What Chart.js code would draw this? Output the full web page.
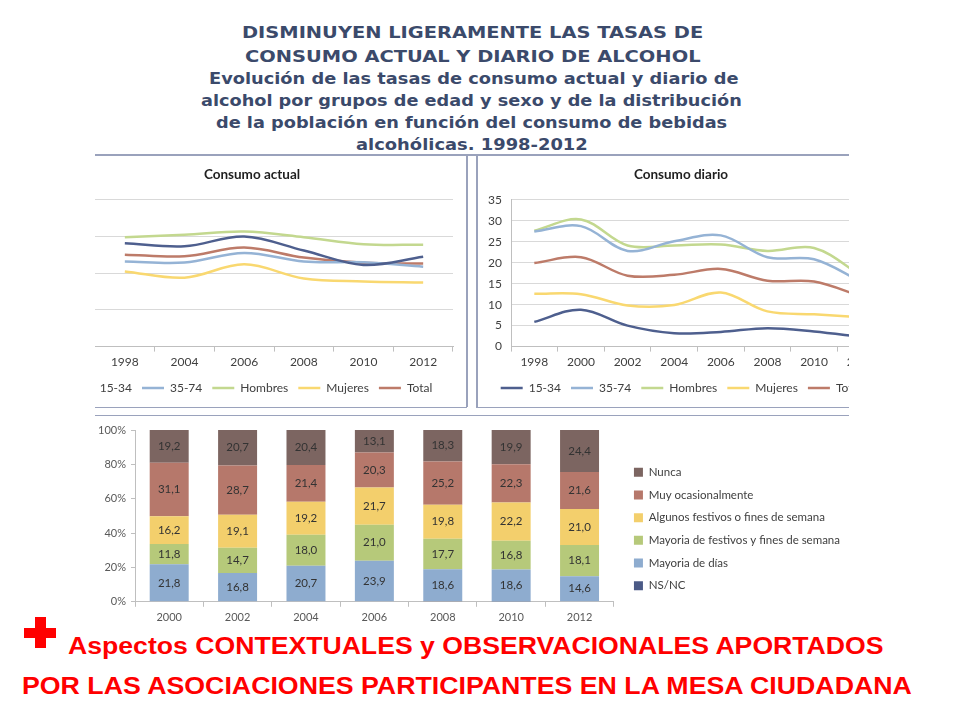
<!DOCTYPE html>
<html>
<head>
<meta charset="utf-8">
<script src="https://cdn.jsdelivr.net/npm/chart.js@4.4.0/dist/chart.umd.min.js"></script>
<style>
  body { margin: 0; width: 960px; height: 720px; background: #fff; position: relative; overflow: hidden; }
  .fit { position: absolute; white-space: nowrap; transform-origin: 0 50%; line-height: normal; }
  .ttl { font-family: 'DejaVu Sans'; font-weight: bold; font-size: 15.5px; color: #3b4a6b; }
  .red { font-family: 'Liberation Sans', Arial; font-weight: bold; font-size: 23px; color: #ff0000; }
  .clip { position: absolute; overflow: hidden; }
  .clip canvas { position: absolute; top: 0; }
  .ln { position: absolute; background: #9aa2bc; }
  .plus { position: absolute; background: #ff0000; }
</style>
</head>
<body>

<div class="fit ttl" data-x1="242" data-x2="703" data-y="33">DISMINUYEN LIGERAMENTE LAS TASAS DE</div>
<div class="fit ttl" data-x1="245" data-x2="700" data-y="57">CONSUMO ACTUAL Y DIARIO DE ALCOHOL</div>
<div class="fit ttl" data-x1="209" data-x2="738" data-y="79">Evolución de las tasas de consumo actual y diario de</div>
<div class="fit ttl" data-x1="201" data-x2="742" data-y="101">alcohol por grupos de edad y sexo y de la distribución</div>
<div class="fit ttl" data-x1="216" data-x2="727" data-y="123">de la población en función del consumo de bebidas</div>
<div class="fit ttl" data-x1="356" data-x2="588" data-y="145">alcohólicas. 1998-2012</div>

<!-- panel frames -->
<div class="ln" style="left:95px;top:154px;width:754px;height:1.5px"></div>
<div class="ln" style="left:466px;top:155px;width:1.5px;height:252px"></div>
<div class="ln" style="left:476px;top:155px;width:1.5px;height:252px"></div>
<div class="ln" style="left:95px;top:406.5px;width:372px;height:1.5px"></div>
<div class="ln" style="left:476px;top:406.5px;width:373px;height:1.5px"></div>
<div class="ln" style="left:95px;top:414.5px;width:754px;height:1.5px"></div>

<div class="clip" style="left:95px;top:156px;width:371px;height:250px">
  <canvas id="actual" width="414" height="250" style="left:-44px"></canvas>
</div>
<div class="clip" style="left:478px;top:156px;width:371px;height:250px">
  <canvas id="diario" width="434" height="250" style="left:0"></canvas>
</div>
<!-- the bar chart canvas is wider than what shows; its left part (y axis room) is clipped -->
<div class="clip" style="left:93px;top:416px;width:757px;height:212px">
  <canvas id="distrib" width="1500" height="212" style="left:-743px"></canvas>
</div>

<div class="plus" style="left:24px;top:627.5px;width:32px;height:10.5px"></div>
<div class="plus" style="left:35px;top:617px;width:10.5px;height:31px"></div>
<div class="fit red" data-x1="68" data-x2="884" data-y="646">Aspectos CONTEXTUALES y OBSERVACIONALES APORTADOS</div>
<div class="fit red" data-x1="22" data-x2="912" data-y="686">POR LAS ASOCIACIONES PARTICIPANTES EN LA MESA CIUDADANA</div>

<script>
// Consumo actual
const yearsActual = ['1998', '2004', '2006', '2008', '2010', '2012'];
const actual1534 = [70.4, 68.3, 74.9, 65.4, 55.6, 61.1];
const actual3574 = [57.9, 57.2, 63.8, 57.9, 57.4, 54.4];
const actualHombres = [74.5, 76.1, 78.3, 74.5, 69.7, 69.3];
const actualMujeres = [51.2, 46.9, 56.0, 46.4, 44.4, 43.7];
const actualTotal = [62.6, 61.5, 67.4, 60.6, 57.0, 56.5];

// Consumo diario
const yearsDiario = ['1998', '2000', '2002', '2004', '2006', '2008', '2010', '2012'];
const diario1534 = [5.9, 8.8, 5.0, 3.2, 3.5, 4.4, 3.6, 2.3];
const diario3574 = [27.4, 28.7, 22.8, 25.1, 26.5, 21.3, 20.8, 15.5];
const diarioHombres = [27.6, 30.3, 24.1, 24.1, 24.3, 22.8, 23.5, 17.0];
const diarioMujeres = [12.6, 12.5, 9.8, 9.9, 12.9, 8.4, 7.7, 7.0];
const diarioTotal = [19.9, 21.3, 16.9, 17.1, 18.5, 15.7, 15.5, 12.0];

// Distribucion segun frecuencia de consumo
const yearsDistrib = ['2000', '2002', '2004', '2006', '2008', '2010', '2012'];
const nsnc = [0, 0, 0.3, 0, 0.4, 0.2, 0.3];
const mayoriaDias = [21.8, 16.8, 20.7, 23.9, 18.6, 18.6, 14.6];
const mayoriaFestivos = [11.8, 14.7, 18.0, 21.0, 17.7, 16.8, 18.1];
const algunosFestivos = [16.2, 19.1, 19.2, 21.7, 19.8, 22.2, 21.0];
const muyOcasional = [31.1, 28.7, 21.4, 20.3, 25.2, 22.3, 21.6];
const nunca = [19.2, 20.7, 20.4, 13.1, 18.3, 19.9, 24.4];

// fit the slide texts to their widths
document.querySelectorAll('.fit').forEach(el => {
  const x1 = +el.dataset.x1, x2 = +el.dataset.x2, cy = +el.dataset.y;
  const w = el.offsetWidth, h = el.offsetHeight;
  el.style.left = x1 + 'px';
  el.style.top = (cy - h / 2) + 'px';
  el.style.transform = 'scaleX(' + ((x2 - x1) / w) + ')';
});

Chart.defaults.font.family = 'Lato';
Chart.defaults.color = '#404040';

function lineSet(label, data, color) {
  return {
    label: label, data: data, borderColor: color, backgroundColor: color,
    borderWidth: 2.5, pointRadius: 0, pointStyle: 'line', tension: 0.35, fill: false
  };
}

function lineOptions(title, yMax, yStep, yWidth, showY, padRight) {
  return {
    animation: false,
    responsive: false,
    layout: { padding: { left: 0, right: padRight, top: 0, bottom: 2 } },
    plugins: {
      title: {
        display: true, text: title, color: '#1f1f1f',
        font: { size: 13.5, weight: 'bold' }, padding: { top: 11, bottom: 16.5 }
      },
      legend: {
        position: 'bottom',
        labels: { usePointStyle: true, pointStyleWidth: 22, font: { size: 12 }, color: '#404040', padding: 10 }
      },
      tooltip: { enabled: false }
    },
    scales: {
      x: {
        offset: true,
        grid: { offset: true, drawOnChartArea: false, tickLength: 5, color: '#bfbfbf' },
        border: { color: '#bfbfbf' },
        ticks: { font: { size: 12 }, color: '#404040', padding: 3 }
      },
      y: {
        min: 0, max: yMax,
        ticks: { stepSize: yStep, display: showY, font: { size: 12 }, color: '#404040', padding: 9 },
        grid: { color: '#d9d9d9', drawTicks: false },
        border: { display: showY, color: '#bfbfbf' },
        afterFit(s) { s.width = yWidth; }
      }
    }
  };
}

const colors = ['#4e5f8e', '#95b3d5', '#c3d88f', '#f9d870', '#bd7b69'];

new Chart(document.getElementById('actual'), {
  type: 'line',
  data: {
    labels: yearsActual,
    datasets: [
      lineSet('15-34', actual1534, colors[0]),
      lineSet('35-74', actual3574, colors[1]),
      lineSet('Hombres', actualHombres, colors[2]),
      lineSet('Mujeres', actualMujeres, colors[3]),
      lineSet('Total', actualTotal, colors[4])
    ]
  },
  options: lineOptions('Consumo actual', 100, 25, 44, false, 12)
});

new Chart(document.getElementById('diario'), {
  type: 'line',
  data: {
    labels: yearsDiario,
    datasets: [
      lineSet('15-34', diario1534, colors[0]),
      lineSet('35-74', diario3574, colors[1]),
      lineSet('Hombres', diarioHombres, colors[2]),
      lineSet('Mujeres', diarioMujeres, colors[3]),
      lineSet('Total', diarioTotal, colors[4])
    ]
  },
  options: lineOptions('Consumo diario', 35, 5, 33, true, 28)
});

// values written in the middle of each segment
const barLabels = {
  id: 'barLabels',
  afterDatasetsDraw(chart) {
    const ctx = chart.ctx;
    ctx.save();
    ctx.font = '11.5px Lato';
    ctx.fillStyle = '#333333';
    ctx.textAlign = 'center';
    ctx.textBaseline = 'middle';
    chart.data.datasets.forEach((ds, i) => {
      if (i === 0) return;
      chart.getDatasetMeta(i).data.forEach((bar, j) => {
        ctx.fillText(ds.data[j].toFixed(1).replace('.', ','), bar.x, (bar.y + bar.base) / 2);
      });
    });
    ctx.restore();
  }
};

new Chart(document.getElementById('distrib'), {
  type: 'bar',
  data: {
    labels: yearsDistrib,
    datasets: [
      { label: 'NS/NC', data: nsnc, backgroundColor: '#4b5a86' },
      { label: 'Mayoria de días', data: mayoriaDias, backgroundColor: '#8eaccf' },
      { label: 'Mayoria de festivos y fines de semana', data: mayoriaFestivos, backgroundColor: '#b6c97a' },
      { label: 'Algunos festivos o fines de semana', data: algunosFestivos, backgroundColor: '#f3cf6c' },
      { label: 'Muy ocasionalmente', data: muyOcasional, backgroundColor: '#b6786b' },
      { label: 'Nunca', data: nunca, backgroundColor: '#7c6561' }
    ]
  },
  options: {
    animation: false,
    responsive: false,
    layout: { padding: { left: 0, right: 0, top: 14, bottom: 0 } },
    datasets: { bar: { barPercentage: 0.57, categoryPercentage: 1 } },
    plugins: {
      legend: {
        position: 'right', reverse: true,
        labels: { boxWidth: 9, boxHeight: 9, font: { size: 11.5 }, color: '#404040', padding: 11.2 }
      },
      tooltip: { enabled: false }
    },
    scales: {
      x: {
        stacked: true,
        grid: { offset: true, drawOnChartArea: false, tickLength: 5, color: '#bfbfbf' },
        border: { color: '#bfbfbf' },
        ticks: { font: { size: 11 }, color: '#595959', padding: 4 }
      },
      y: {
        stacked: true, min: 0, max: 100,
        ticks: { stepSize: 20, callback: v => v + '%', font: { size: 11 }, color: '#595959', padding: 5 },
        grid: { drawOnChartArea: false, tickLength: 4, color: '#bfbfbf' },
        border: { color: '#bfbfbf' },
        afterFit(s) { s.width = 785; }
      },
      pad: {
        type: 'linear', position: 'right', display: true,
        grid: { display: false }, border: { display: false }, ticks: { display: false },
        afterFit(s) { s.width = 9; }
      }
    }
  },
  plugins: [barLabels]
});
</script>
</body>
</html>
